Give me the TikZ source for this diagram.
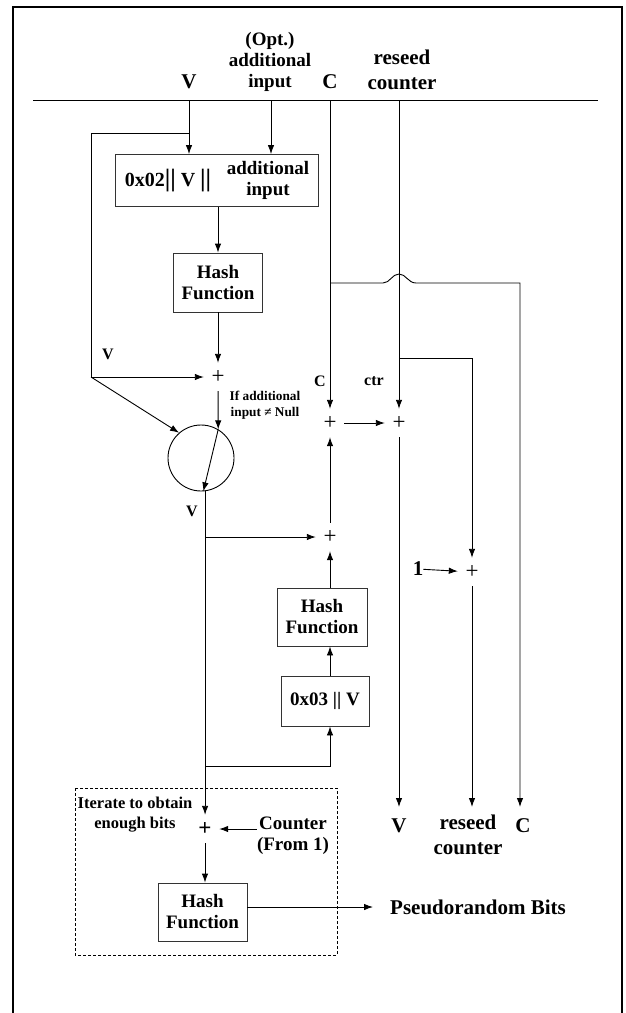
\documentclass[tikz,border=0pt]{standalone}
\usepackage{fontspec}
\setmainfont{Liberation Serif}
\usetikzlibrary{arrows.meta}
\newcommand\tallbars{{\fontsize{25}{25}\selectfont||}}
\begin{document}
\begin{tikzpicture}[x=1pt,y=-1pt,
  ln/.style={line width=0.9pt},
  arr/.style={ln,-{Latex[length=9pt,width=6.5pt]}},
  big/.style={inner sep=0,align=center,font=\bfseries\fontsize{21}{25}\selectfont},
  med/.style={inner sep=0,align=center,font=\bfseries\fontsize{19}{21}\selectfont},
  sm/.style={inner sep=0,align=center,font=\bfseries\fontsize{16}{19}\selectfont},
  itx/.style={inner sep=0,align=center,font=\bfseries\fontsize{16.5}{20}\selectfont},
  tiny/.style={inner sep=0,align=center,font=\bfseries\fontsize{13.3}{16}\selectfont},
  box/.style={draw=black!80,line width=0.9pt,inner sep=0,align=center,font=\bfseries\fontsize{19}{21}\selectfont},
  plus/.style={circle,minimum size=28pt,inner sep=0,font=\fontsize{23}{23}\selectfont}]
\useasboundingbox (0,0) rectangle (625,1013);
% frame
\draw[line width=2.2pt] (13,1013) -- (13,7) -- (622,7) -- (622,1013);
% top rule
\coordinate (rl) at (33,100);
\coordinate (rr) at (598,100);
\draw[ln] (rl) -- (rr);
% top labels
\node[big,anchor=base] (tV) at (189,88) {V};
\node[med] (tAI) at (270,62) {(Opt.)\\additional\\input};
\node[big,anchor=base] (tC) at (330,88) {C};
\node[big] (tRC) at (402,70) {reseed\\counter};
\coordinate (vs) at (189,100);
\coordinate (as) at (271,100);
\coordinate (cs0) at (330,100);
\coordinate (rs0) at (399,100);
% top box
\node[box,minimum width=203pt,minimum height=52pt] (b1) at (216.5,180.5) {};
\node[inner sep=0,font=\bfseries\fontsize{20}{22}\selectfont] (b1a) at (168,181) {0x02\tallbars\ V \tallbars};
\node[med] (b1b) at (268,180) {additional\\input};
\draw[arr] (vs) -- (vs |- b1.north);
\draw[arr] (as) -- (as |- b1.north);
% feedback
\coordinate (fb) at (189,133);
\coordinate (fl) at (91,377);
\draw[ln] (fb) -| (fl);
% hash 1
\node[box,minimum width=89pt,minimum height=59pt] (h1) at (218,282.5) {Hash\\Function};
\draw[arr] (b1.south -| h1) -- (h1.north);
\node[plus] (p1) at (218,377) {+};
\draw[arr] (h1) -- (p1);
\node[sm] (lV1) at (108,354) {V};
\draw[arr] (fl) -- (p1);
\node[tiny] (cond) at (265,405) {If additional\\input ≠ Null};
% selector circle
\node[circle,draw,line width=0.9pt,minimum size=66pt,inner sep=0] (cs) at (201,458) {};
\draw[arr] (p1) -- (cs.59);
\draw[arr] (fl) -- (cs.131);
\draw[arr] (cs.59) -- (cs.-86);
\node[sm] (lV2) at (192,511) {V};
% V column
\coordinate (j1) at (205,537);
\coordinate (j2) at (205,766);
\node[plus,font=\bfseries\fontsize{23}{23}\selectfont] (p3) at (205,829) {+};
\draw[arr] (cs.-83) -- (cs.-83 |- p3.north);
% middle adders
\node[plus] (p2) at (330,537) {+};
\draw[arr] (j1) -- (p2);
\node[box,minimum width=90pt,minimum height=58pt] (h2) at (322,617) {Hash\\Function};
\draw[arr] (h2.north -| p2) -- (p2);
\node[box,minimum width=88pt,minimum height=50pt] (x3) at (325,701) {0x03 || V};
\draw[arr] (x3.north -| p2) -- (h2.south -| p2);
\draw[arr] (j2) -| (x3.south -| p2);
\node[plus] (pC) at (330,423) {+};
\node[plus] (pR) at (399,423) {+};
\draw[arr] (p2) -- (pC);
\node[sm] (lC) at (320,381) {C};
\node[sm] (lctr) at (374,381) {ctr};
\draw[arr] (cs0) -- (pC);
\draw[arr] (rs0) -- (pR);
\draw[arr] (pC) -- (pR);
% C branch with hop
\coordinate (cj) at (330,283);
\coordinate (ce) at (520,283);
\coordinate (ceEnd) at (520,807);
\draw[arr] (cj) -- (383,283) .. controls (390,283) and (392,274) .. (399,274) .. controls (406,274) and (408,283) .. (416,283) -- (ce) -- (ceEnd);
\node[big] (bC) at (523,826) {C};
% reseed branch
\coordinate (rj) at (399,358);
\node[plus] (p4) at (472,572) {+};
\draw[arr] (rj) -| (p4);
\node[big] (one) at (418,569) {1};
\draw[arr] (one) -- (p4);
\coordinate (vEnd) at (399,807);
\coordinate (rEnd) at (472,807);
\draw[arr] (pR) -- (vEnd);
\draw[arr] (p4) -- (rEnd);
\node[big] (bV) at (399,826) {V};
\node[big] (bRC) at (468,835) {reseed\\counter};
% iteration box
\draw[ln,dash pattern=on 3pt off 2pt] (75,788) rectangle (337,955);
\node[itx] (it) at (135,815) {Iterate to obtain\\enough bits};
\node[med] (cnt) at (293,836) {Counter\\(From 1)};
\draw[arr] (cnt.west |- p3) -- (p3);
\node[box,minimum width=89pt,minimum height=58pt] (h3) at (202.5,912) {Hash\\Function};
\draw[arr] (p3) -- (p3 |- h3.north);
\node[big,anchor=west] (prb) at (390,907) {Pseudorandom Bits};
\draw[arr] ([yshift=5pt]h3.east) -- ([xshift=-17pt]prb.west);
\end{tikzpicture}
\end{document}
